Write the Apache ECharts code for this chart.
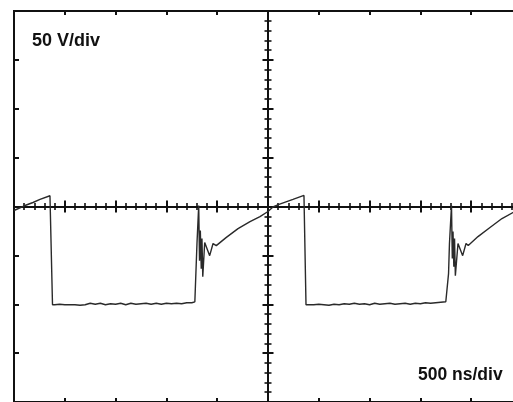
<!DOCTYPE html>
<html>
<head>
<meta charset="utf-8">
<title>Scope trace</title>
<script src="https://cdn.jsdelivr.net/npm/echarts@6/dist/echarts.min.js"></script>
<style>
  html, body { margin: 0; padding: 0; background: #fff; }
  #chart { width: 513px; height: 402px; }
</style>
</head>
<body>
<div id="chart"></div>
<script>
// Time base: 500 ns/div, 10 divisions, trigger at screen centre
const timeMin = -2500;
const timeMax = 2500;
const timeDiv = 500;
// Vertical: 50 V/div, 8 divisions
const voltMin = -200;
const voltMax = 200;
const voltDiv = 50;

const voltLabel = '50 V/div';
const timeLabel = '500 ns/div';

// Captured trace, time in ns
const traceTimeNs = [
  -2500, -2392, -2313, -2244, -2146, -2131, -2121,
  -2100, -2050, -2000, -1950, -1900, -1850, -1800, -1750, -1700, -1650,
  -1600, -1550, -1500, -1450, -1400, -1350, -1300, -1250, -1200, -1150,
  -1100, -1050, -1000, -950, -900, -850, -800, -750, -720,
  -706, -699, -682, -674, -666, -657, -650, -642, -623, -574, -541, -509,
  -413, -295, -177, -79, 0, 49, 108, 246, 354, 367, 374,
  400, 450, 500, 550, 600, 650, 700, 750, 800, 850,
  900, 950, 1000, 1050, 1100, 1150, 1200, 1250, 1300, 1350,
  1400, 1450, 1500, 1550, 1600, 1650, 1700, 1750,
  1767, 1777, 1786, 1806, 1814, 1821, 1829, 1836, 1844, 1870, 1916, 1949, 1971,
  2067, 2185, 2303, 2411, 2500
];

// Captured trace, volts
const traceVolts = [
  -4.1, 1.0, 4.1, 7.2, 11.0, 11.8, -100.5,
  -100.5, -100, -100.5, -100.5, -100.5, -101, -100.5, -99, -100, -99,
  -100.5, -99.5, -100, -99, -100.5, -99, -100, -99.5, -99, -100,
  -99, -100, -99, -99.5, -99, -99.5, -98.5, -98.5, -97.5,
  -97.4, -37.9, 1.0, -55.4, -24.6, -63.6, -32.8, -71.8, -36.9, -50.3, -37.9, -40,
  -31.8, -22.6, -15.4, -10.3, -5.1, -0.5, 2.1, 7.2, 11.3, 11.3, -100.5,
  -100.5, -100.5, -100, -100.5, -101, -100, -100.5, -99.5, -100, -99,
  -100, -99.5, -100.5, -99, -100, -99.5, -99, -100, -99.5, -99,
  -100, -99, -99.5, -98.5, -99, -98.5, -98, -97.5,
  -97.4, -68.7, -37.9, 1.0, -53.3, -25.6, -61.5, -32.8, -70.8, -37.9, -50.3, -37.9, -40,
  -30.8, -21.5, -12.3, -6.2, -1.5
];

const traceData = traceTimeNs.map((t, i) => [t, traceVolts[i]]);

const ink = '#111';

function edgeX(position) {
  return {
    type: 'value', gridIndex: 0, position: position,
    min: timeMin, max: timeMax, interval: timeDiv,
    axisLine: { show: false, onZero: false },
    axisTick: { show: true, inside: true, length: 4, lineStyle: { color: ink, width: 2 } },
    axisLabel: { show: false }, splitLine: { show: false }
  };
}
function centreX(inside) {
  return {
    type: 'value', gridIndex: 0, position: 'bottom',
    min: timeMin, max: timeMax, interval: timeDiv,
    axisLine: { show: true, onZero: true, onZeroAxisIndex: 0, lineStyle: { color: ink, width: 2 } },
    axisTick: { show: true, inside: inside, length: 6, lineStyle: { color: ink, width: 2 } },
    minorTick: { show: true, splitNumber: 5, length: 3.5, lineStyle: { color: ink, width: 1.6 } },
    axisLabel: { show: false }, splitLine: { show: false }
  };
}
function edgeY(position) {
  return {
    type: 'value', gridIndex: 0, position: position,
    min: voltMin, max: voltMax, interval: voltDiv,
    axisLine: { show: false, onZero: false },
    axisTick: { show: true, inside: true, length: 5, lineStyle: { color: ink, width: 2 } },
    axisLabel: { show: false }, splitLine: { show: false }
  };
}
function centreY(inside) {
  return {
    type: 'value', gridIndex: 0, position: 'left',
    min: voltMin, max: voltMax, interval: voltDiv,
    axisLine: { show: true, onZero: true, onZeroAxisIndex: 0, lineStyle: { color: ink, width: 2 } },
    axisTick: { show: true, inside: inside, length: 5.5, lineStyle: { color: ink, width: 2 } },
    minorTick: { show: true, splitNumber: 5, length: 3.5, lineStyle: { color: ink, width: 1.6 } },
    axisLabel: { show: false }, splitLine: { show: false }
  };
}

const chart = echarts.init(document.getElementById('chart'), null, { renderer: 'canvas' });
chart.setOption({
  animation: false,
  backgroundColor: '#fff',
  grid: {
    left: 14, top: 11, width: 508, height: 391,
    show: true, borderColor: ink, borderWidth: 2, backgroundColor: '#fff',
    outerBoundsMode: 'none', containLabel: false
  },
  title: [
    { text: voltLabel, left: 32, top: 32, padding: 0,
      textStyle: { fontFamily: 'Liberation Sans', fontSize: 18, fontWeight: 'bold', color: ink } },
    { text: timeLabel, left: 418, top: 366, padding: 0,
      textStyle: { fontFamily: 'Liberation Sans', fontSize: 17.5, fontWeight: 'bold', color: ink } }
  ],
  xAxis: [edgeX('bottom'), edgeX('top'), centreX(false), centreX(true)],
  yAxis: [edgeY('left'), edgeY('right'), centreY(false), centreY(true)],
  series: [{
    type: 'line',
    xAxisIndex: 0, yAxisIndex: 0,
    data: traceData,
    showSymbol: false,
    symbol: 'none',
    lineStyle: { color: '#2a2a2a', width: 1.4 },
    z: 5
  }]
});
</script>
</body>
</html>
